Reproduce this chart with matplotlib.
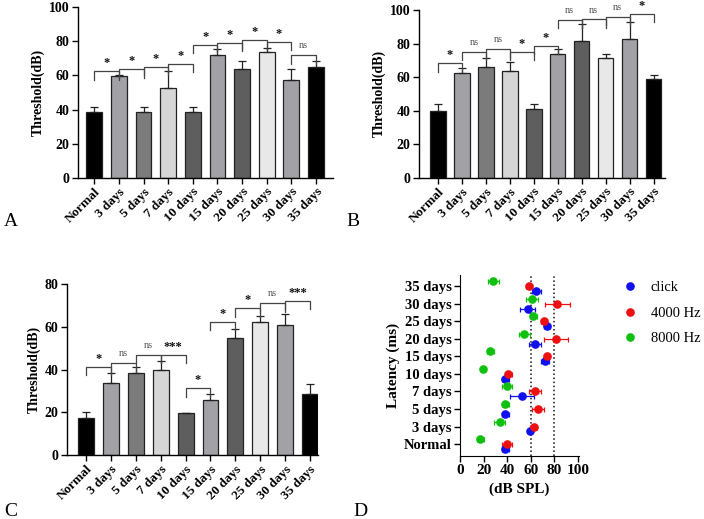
import matplotlib
matplotlib.use("Agg")
import matplotlib.pyplot as plt
from matplotlib.lines import Line2D
import numpy as np

plt.rcParams['font.family'] = ['Liberation Serif', 'DejaVu Serif']

categories = ["Normal", "3 days", "5 days", "7 days", "10 days", "15 days",
              "20 days", "25 days", "30 days", "35 days"]

# Panel A: click thresholds
click_mean = [38.4, 59.7, 38.4, 52.5, 38.4, 72.0, 63.6, 73.6, 57.3, 64.8]
click_sd = [2.9, 0.8, 2.9, 10.3, 2.9, 3.4, 4.7, 2.7, 6.5, 3.9]
# Panel B: 4000 Hz thresholds
hz4k_mean = [40.0, 62.6, 66.0, 63.6, 41.0, 73.8, 81.3, 71.2, 82.5, 58.7]
hz4k_sd = [4.1, 3.0, 5.2, 5.2, 2.8, 2.8, 10.2, 2.8, 10.5, 2.7]
# Panel C: 8000 Hz thresholds
hz8k_mean = [17.2, 33.6, 38.4, 39.7, 19.8, 25.8, 54.7, 62.2, 60.9, 28.4]
hz8k_sd = [3.1, 4.7, 2.8, 4.4, 0.0, 2.8, 4.4, 3.0, 5.0, 5.0]

bar_colors = ["#000000", "#a2a2a6", "#7b7b7b", "#d6d6d6", "#5e5e5e",
              "#a2a2a6", "#5e5e5e", "#e8e8e8", "#a2a2a6", "#000000"]

# significance brackets: (i, j, height, label)
sig_a = [(0, 1, 62.6, "*"), (1, 2, 63.6, "*"), (2, 3, 65.1, "*"), (3, 4, 66.9, "*"),
         (4, 5, 77.9, "*"), (5, 6, 79.2, "*"), (6, 7, 80.8, "*"), (7, 8, 79.8, "*"),
         (8, 9, 72.0, "ns")]
sig_b = [(0, 1, 68.2, "*"), (1, 2, 75.1, "ns"), (2, 3, 76.6, "ns"), (3, 4, 75.1, "*"),
         (4, 5, 78.5, "*"), (5, 6, 94.0, "ns"), (6, 7, 94.4, "ns"), (7, 8, 96.0, "ns"),
         (8, 9, 97.6, "*")]
sig_c = [(0, 1, 41.4, "*"), (1, 2, 43.0, "ns"), (2, 3, 46.9, "ns"), (3, 4, 46.9, "***"),
         (4, 5, 31.2, "*"), (5, 6, 62.5, "*"), (6, 7, 68.8, "*"), (7, 8, 71.1, "ns"),
         (8, 9, 72.2, "***")]

W, H = 704, 519
fig = plt.figure(figsize=(W / 100, H / 100), dpi=100)


def px_axes(left, right, top, bottom):
    return fig.add_axes([left / W, 1 - bottom / H, (right - left) / W, (bottom - top) / H])


def bar_panel(ax, means, sds, sigs, ymax, yticks, xlim, leg):
    x = np.arange(len(categories))
    ax.bar(x, means, width=0.64, color=bar_colors, edgecolor="#222222", linewidth=0.9, zorder=2)
    ax.errorbar(x, means, yerr=[np.zeros(len(sds)), sds], fmt="none", ecolor="#222222",
                elinewidth=0.9, capsize=3, capthick=0.9, zorder=3)
    for i, j, h, lab in sigs:
        ax.plot([i, i, j, j], [h - leg, h, h, h - leg], color="#444444", lw=0.9, zorder=4)
        if lab == "ns":
            ax.annotate(lab, ((i + j) / 2, h), xytext=(0, 3.5), textcoords="offset points",
                        ha="center", va="bottom", fontsize=7.5, color="#555555")
        else:
            ax.annotate(lab, ((i + j) / 2, h), xytext=(0, 1.5), textcoords="offset points",
                        ha="center", va="bottom", fontsize=9, fontweight="bold", color="#111111")
    ax.set_ylim(0, ymax)
    ax.set_xlim(*xlim)
    ax.set_yticks(yticks)
    ax.set_xticks(x)
    ax.set_xticklabels(categories, rotation=45, ha="right", rotation_mode="anchor",
                       fontsize=9.5, fontweight="bold")
    for t in ax.get_yticklabels():
        t.set_fontweight("bold")
        t.set_fontsize(10)
    ax.spines["top"].set_visible(False)
    ax.spines["right"].set_visible(False)
    ax.spines["left"].set_linewidth(1.0)
    ax.spines["bottom"].set_linewidth(1.0)
    ax.tick_params(direction="out", length=4, width=1.0, pad=2)
    ax.set_ylabel("Threshold(dB)", fontsize=10, fontweight="bold", labelpad=3)


axA = px_axes(78, 333, 7.3, 177.7)
bar_panel(axA, click_mean, click_sd, sig_a, 100, [0, 20, 40, 60, 80, 100], (-0.66, 9.69), 5)
axB = px_axes(419, 665, 10, 177.7)
bar_panel(axB, hz4k_mean, hz4k_sd, sig_b, 100, [0, 20, 40, 60, 80, 100], (-0.8, 9.48), 5)
axC = px_axes(67, 318, 284.3, 455)
bar_panel(axC, hz8k_mean, hz8k_sd, sig_c, 80, [0, 20, 40, 60, 80], (-0.78, 9.33), 4)

# Panel D
axD = px_axes(460, 578.5, 275, 456)
yy = np.arange(len(categories))
series = [("click", click_mean, click_sd, "#1010ee", -0.28),
          ("4000 Hz", hz4k_mean, hz4k_sd, "#ee1010", 0.0),
          ("8000 Hz", hz8k_mean, hz8k_sd, "#10c010", 0.28)]
handles = []
for name, m, s, col, off in series:
    axD.errorbar(m, yy + off, xerr=s, fmt="o", color=col, ecolor=col, markersize=5.2,
                 elinewidth=0.9, capsize=1.8, capthick=0.9, zorder=3)
    handles.append(Line2D([], [], marker="o", linestyle="none", color=col, markersize=5.2, label=name))
axD.axvline(60, color="#111111", linestyle=":", lw=1.1, zorder=1)
axD.axvline(80, color="#111111", linestyle=":", lw=1.1, zorder=1)
axD.set_xlim(0, 100.5)
axD.set_ylim(-0.68, 9.63)
axD.set_xticks([0, 20, 40, 60, 80, 100])
axD.set_yticks(yy)
axD.set_yticklabels(categories, fontsize=10.5, fontweight="bold")
for t in axD.get_xticklabels():
    t.set_fontweight("bold")
    t.set_fontsize(11)
axD.spines["top"].set_visible(False)
axD.spines["right"].set_visible(False)
axD.tick_params(direction="out", length=4, width=1.0, pad=2)
axD.set_xlabel("(dB SPL)", fontsize=11, fontweight="bold", labelpad=4)
axD.set_ylabel("Latency (ms)", fontsize=11, fontweight="bold", labelpad=3)
fig.legend(handles=handles, loc="upper left", bbox_to_anchor=(620 / W, 1 - 278 / H),
           frameon=False, fontsize=10.5, handletextpad=0.9, labelspacing=0.85,
           handlelength=1.0, borderaxespad=0.0, borderpad=0.2)

# panel letters
for lab, xp, yp in [("A", 4, 226), ("B", 346, 226), ("C", 4, 516), ("D", 353, 516)]:
    fig.text(xp / W, 1 - yp / H, lab, fontsize=14, ha="left", va="baseline")

fig.savefig("out.png", dpi=100)
